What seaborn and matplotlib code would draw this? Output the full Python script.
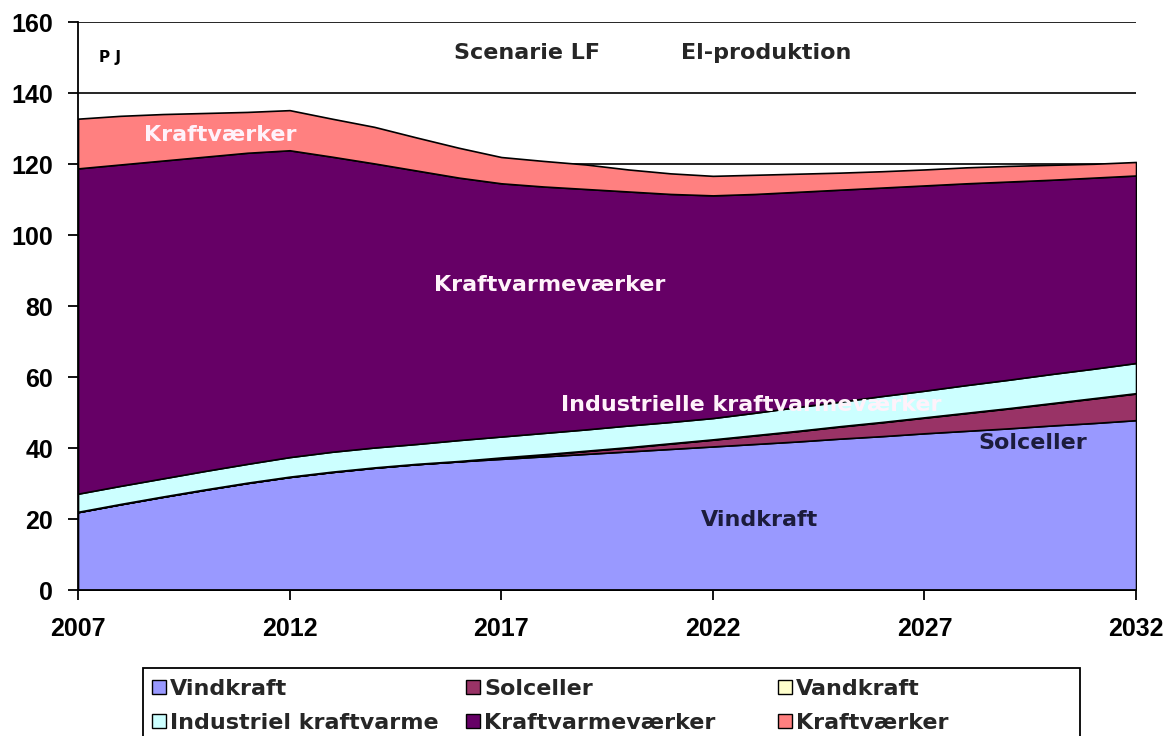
import numpy as np
import matplotlib
matplotlib.use("Agg")
import matplotlib.pyplot as plt
from matplotlib.patches import Patch, Rectangle
import seaborn as sns

years = list(range(2007, 2033))

# PJ per layer, stacked bottom to top
vindkraft = [22.0, 24.2, 26.3, 28.3, 30.2, 31.9, 33.3, 34.5, 35.5, 36.3, 37.0, 37.7, 38.4,
             39.1, 39.8, 40.5, 41.2, 41.9, 42.7, 43.4, 44.2, 44.9, 45.6, 46.4, 47.1, 47.9]
solceller = [0, 0, 0, 0, 0, 0, 0, 0, 0, 0, 0.3, 0.5, 0.8,
             1.1, 1.5, 1.9, 2.4, 2.9, 3.4, 3.9, 4.4, 5.0, 5.6, 6.2, 6.9, 7.5]
vandkraft = [0.1] * 26
industriel = [5.1, 5.1, 5.1, 5.2, 5.3, 5.5, 5.6, 5.6, 5.6, 5.9, 5.9, 6.0, 6.0,
              6.1, 6.0, 6.0, 6.3, 6.7, 6.9, 7.3, 7.5, 7.8, 8.0, 8.2, 8.3, 8.5]
kraftvarme = [91.6, 90.5, 89.5, 88.5, 87.6, 86.4, 83.1, 80.0, 77.0, 73.9, 71.3, 69.4, 67.7,
              65.9, 64.2, 62.7, 61.6, 60.6, 59.7, 58.7, 57.8, 56.8, 55.8, 54.7, 53.8, 52.8]
kraftvaerker = [14.0, 13.7, 13.1, 12.3, 11.5, 11.3, 10.7, 10.3, 9.3, 8.4, 7.4, 7.2, 6.9,
                6.2, 5.8, 5.5, 5.4, 5.1, 4.8, 4.6, 4.5, 4.5, 4.4, 4.2, 3.9, 3.8]

labels = ["Vindkraft", "Solceller", "Vandkraft", "Industriel kraftvarme",
          "Kraftvarmeværker", "Kraftværker"]
colors = ["#9999FF", "#993366", "#FFFFCC", "#CCFFFF", "#660066", "#FF8080"]

sns.set_theme(style="white")
plt.rcParams['font.family'] = ['DejaVu Sans']
plt.rcParams['font.weight'] = 'bold'

W, H = 1173, 736
fig = plt.figure(figsize=(W / 100, H / 100), dpi=100)
ax = fig.add_axes([0.0665, 0.198, 0.902, 0.772])

ax.stackplot(years, vindkraft, solceller, vandkraft, industriel, kraftvarme, kraftvaerker,
             colors=colors, edgecolor="black", linewidth=1.2, zorder=2)

ax.set_xlim(2007, 2032)
ax.set_ylim(0, 160)
ax.set_xticks(range(2007, 2033, 5))
ax.set_yticks(range(0, 161, 20))
for v in range(20, 161, 20):
    ax.axhline(v, color="black", lw=1.2, zorder=1)

for s in ["top", "right"]:
    ax.spines[s].set_visible(False)
for s in ["left", "bottom"]:
    ax.spines[s].set_color("black")
    ax.spines[s].set_linewidth(1.3)
    ax.spines[s].set_zorder(3)

ax.tick_params(axis="both", direction="out", length=7, width=1.3, color="black",
               labelsize=18, labelcolor="black", bottom=True, left=True)
ax.tick_params(axis="y", pad=11)
ax.tick_params(axis="x", pad=12)
for lab in ax.get_xticklabels() + ax.get_yticklabels():
    lab.set_fontweight("bold")
    lab.set_fontfamily("Liberation Sans")

# text inside the chart
ax.text(2007.5, 150, "P J", fontsize=11, fontweight="bold", color="black", va="center")
ax.text(2017.6, 151.3, "Scenarie LF", fontsize=16, fontweight="bold", ha="center", va="center")
ax.text(2023.25, 151.3, "El-produktion", fontsize=16, fontweight="bold", ha="center", va="center")
white_txt = "#FFF2FA"
dark_txt = "#1C1C3C"
ax.text(2010.35, 128.2, "Kraftværker", fontsize=16, fontweight="bold", color=white_txt,
        ha="center", va="center", zorder=4)
ax.text(2018.15, 86, "Kraftvarmeværker", fontsize=16, fontweight="bold", color=white_txt,
        ha="center", va="center", zorder=4)
ax.text(2022.9, 52.1, "Industrielle kraftvarmeværker", fontsize=16, fontweight="bold",
        color=white_txt, ha="center", va="center", zorder=4)
ax.text(2029.55, 41.4, "Solceller", fontsize=16, fontweight="bold", color=dark_txt,
        ha="center", va="center", zorder=4)
ax.text(2023.1, 19.7, "Vindkraft", fontsize=16, fontweight="bold", color=dark_txt,
        ha="center", va="center", zorder=4)

# legend: one box, three columns placed like the original
handles = [Patch(facecolor=c, edgecolor="black", linewidth=1) for c in colors]
col_x = [152, 466, 778]
for ci, (a, b) in enumerate([(0, 3), (1, 4), (2, 5)]):
    leg = fig.legend([handles[a], handles[b]], [labels[a], labels[b]], ncol=1,
                     loc="upper left", bbox_to_anchor=(col_x[ci] / W, 1 - 679 / H),
                     frameon=False, prop={"size": 16, "weight": "bold"},
                     handlelength=0.62, handleheight=0.62, handletextpad=0.2,
                     borderpad=0, labelspacing=0.62, borderaxespad=0)
fig.patches.append(Rectangle((143 / W, -0.05), (1080 - 143) / W, (736 - 668) / H + 0.05,
                             transform=fig.transFigure, fill=False, edgecolor="black",
                             linewidth=1.3))

fig.savefig("out.png", dpi=100)
